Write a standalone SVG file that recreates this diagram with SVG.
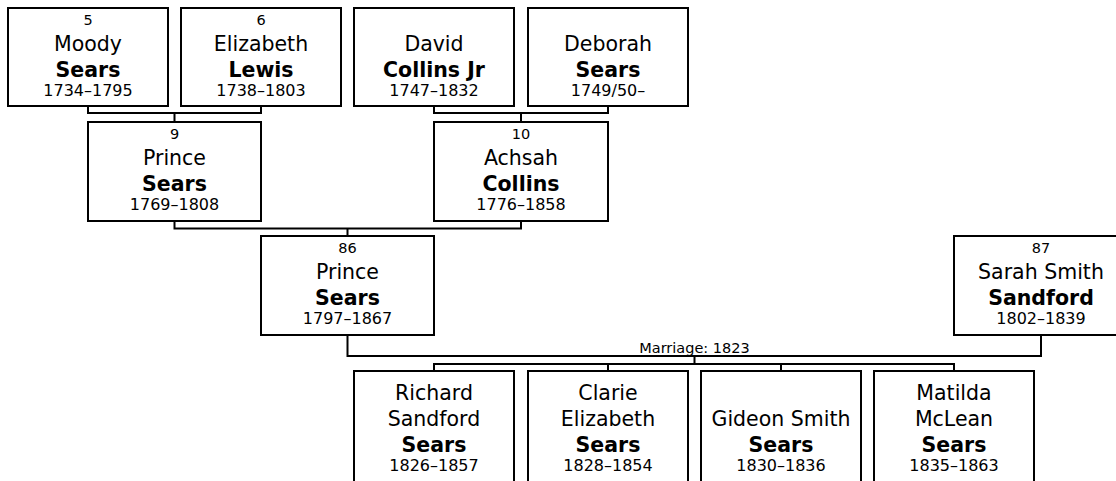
<svg xmlns="http://www.w3.org/2000/svg" width="1116" height="481" viewBox="0 0 1116 481">
<style>
.box{fill:#fff;stroke:#000;stroke-width:2}
.con{fill:none;stroke:#000;stroke-width:2}
text{font-family:"DejaVu Sans","Liberation Sans",sans-serif;text-anchor:middle;fill:#000}
.num{font-size:14.5px}
.nm{font-size:20.5px}
.sn{font-size:20.5px;font-weight:bold}
.dt{font-size:16px}
.lbl{font-size:14.5px}
</style>
<rect width="1116" height="481" fill="#fff"/>
<g id="connectors">
<path class="con" d="M88,106 V113 H261 V106 M174.5,113 V122"/>
<path class="con" d="M434,106 V113 H608 V106 M521,113 V122"/>
<path class="con" d="M174.5,221 V228.5 H521 V221 M347.5,228.5 V236"/>
<path class="con" d="M347.5,335 V356 H1041 V335"/>
<path class="con" d="M694.5,356 V364 M434,371 V364 H954 V371 M608,364 V371 M781,364 V371"/>
<text class="lbl" x="694.5" y="352.5">Marriage: 1823</text>
</g>
<g id="n5">
<rect class="box" x="8" y="8" width="160" height="98"/>
<text class="num" x="88" y="25">5</text>
<text class="nm" x="88" y="50.5">Moody</text>
<text class="sn" x="88" y="76.5">Sears</text>
<text class="dt" x="88" y="95.5">1734–1795</text>
</g>
<g id="n6">
<rect class="box" x="181" y="8" width="160" height="98"/>
<text class="num" x="261" y="25">6</text>
<text class="nm" x="261" y="50.5">Elizabeth</text>
<text class="sn" x="261" y="76.5">Lewis</text>
<text class="dt" x="261" y="95.5">1738–1803</text>
</g>
<g id="david">
<rect class="box" x="354" y="8" width="160" height="98"/>
<text class="nm" x="434" y="50.5">David</text>
<text class="sn" x="434" y="76.5">Collins Jr</text>
<text class="dt" x="434" y="95.5">1747–1832</text>
</g>
<g id="deborah">
<rect class="box" x="528" y="8" width="160" height="98"/>
<text class="nm" x="608" y="50.5">Deborah</text>
<text class="sn" x="608" y="76.5">Sears</text>
<text class="dt" x="608" y="95.5">1749/50–</text>
</g>
<g id="n9">
<rect class="box" x="88" y="122" width="173" height="99"/>
<text class="num" x="174.5" y="139">9</text>
<text class="nm" x="174.5" y="164.5">Prince</text>
<text class="sn" x="174.5" y="190.5">Sears</text>
<text class="dt" x="174.5" y="209.5">1769–1808</text>
</g>
<g id="n10">
<rect class="box" x="434" y="122" width="174" height="99"/>
<text class="num" x="521" y="139">10</text>
<text class="nm" x="521" y="164.5">Achsah</text>
<text class="sn" x="521" y="190.5">Collins</text>
<text class="dt" x="521" y="209.5">1776–1858</text>
</g>
<g id="n86">
<rect class="box" x="261" y="236" width="173" height="99"/>
<text class="num" x="347.5" y="253">86</text>
<text class="nm" x="347.5" y="278.5">Prince</text>
<text class="sn" x="347.5" y="304.5">Sears</text>
<text class="dt" x="347.5" y="323.5">1797–1867</text>
</g>
<g id="n87">
<rect class="box" x="954" y="236" width="174" height="99"/>
<text class="num" x="1041" y="253">87</text>
<text class="nm" x="1041" y="278.5">Sarah Smith</text>
<text class="sn" x="1041" y="304.5">Sandford</text>
<text class="dt" x="1041" y="323.5">1802–1839</text>
</g>
<g id="richard">
<rect class="box" x="354" y="371" width="160" height="112"/>
<text class="nm" x="434" y="400">Richard</text>
<text class="nm" x="434" y="425.5">Sandford</text>
<text class="sn" x="434" y="451.5">Sears</text>
<text class="dt" x="434" y="470.5">1826–1857</text>
</g>
<g id="clarie">
<rect class="box" x="528" y="371" width="160" height="112"/>
<text class="nm" x="608" y="400">Clarie</text>
<text class="nm" x="608" y="425.5">Elizabeth</text>
<text class="sn" x="608" y="451.5">Sears</text>
<text class="dt" x="608" y="470.5">1828–1854</text>
</g>
<g id="gideon">
<rect class="box" x="701" y="371" width="160" height="112"/>
<text class="nm" x="781" y="425.5">Gideon Smith</text>
<text class="sn" x="781" y="451.5">Sears</text>
<text class="dt" x="781" y="470.5">1830–1836</text>
</g>
<g id="matilda">
<rect class="box" x="874" y="371" width="160" height="112"/>
<text class="nm" x="954" y="400">Matilda</text>
<text class="nm" x="954" y="425.5">McLean</text>
<text class="sn" x="954" y="451.5">Sears</text>
<text class="dt" x="954" y="470.5">1835–1863</text>
</g>
</svg>
